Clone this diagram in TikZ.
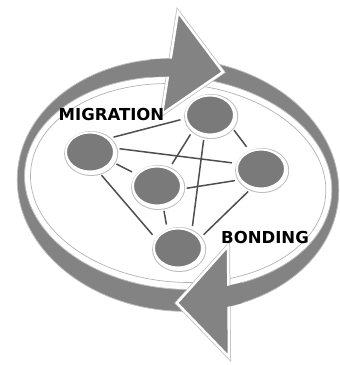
\documentclass[tikz,border=0pt]{standalone}
\usepackage{fontspec}
\setmainfont{DejaVu Sans}
\usetikzlibrary{shapes.geometric}
\definecolor{bandgray}{HTML}{838383}
\definecolor{atomgray}{HTML}{7A7A7A}
\definecolor{bondgray}{HTML}{4E4E4E}
\definecolor{rimgray}{HTML}{BDBDBD}

\begin{document}
\begin{tikzpicture}[
  x=1pt, y=-1pt,
  band/.style={fill=bandgray, even odd rule},
  head/.style={fill=bandgray, draw=white, line width=2.5pt, line join=miter, preaction={draw=rimgray, line width=4pt}},
  atom/.style={ellipse, minimum width=48pt, minimum height=39pt, inner sep=0pt, fill=atomgray, draw=white, line width=2pt,
    preaction={draw=rimgray, line width=6pt, transform canvas={shift={(1.2pt,-1.5pt)}}},
    preaction={draw=white, line width=4pt, transform canvas={shift={(1.2pt,-1.5pt)}}}},
  bond/.style={draw=bondgray, line width=1.5pt, shorten <=5pt, shorten >=5pt},
  tag/.style={font=\fontsize{16.5}{19}\selectfont\bfseries, inner sep=0pt}
]
\useasboundingbox (0,0) rectangle (340,365);

% the ring behind everything
\begin{scope}[rotate around={-5:(178,185)}]
  \fill[band] (178,185) ellipse [x radius=161, y radius=126] (178,183) ellipse [x radius=154, y radius=106];
  \draw[rimgray, line width=0.8pt] (178,185) ellipse [x radius=161, y radius=126] (178,183) ellipse [x radius=154, y radius=106];
  \draw[gray!60, line width=0.7pt] (178,183) ellipse [x radius=148, y radius=99];
\end{scope}

% arrow heads
\path[head] (178,12) -- (223,72) -- (162,114) -- cycle;
\path[head] (228,246) -- (177,303) -- (229,357) -- cycle;

% band runs into the heads without a seam
\begin{scope}
  \clip (150,48) rectangle (186,88) (214,268) rectangle (242,322);
  \fill[band, rotate around={-5:(178,185)}] (178,185) ellipse [x radius=161, y radius=126] (178,183) ellipse [x radius=154, y radius=106];
\end{scope}

% atoms
\node[atom] (ntop) at (210,115) {};
\node[atom] (nleft) at (90,152) {};
\node[atom] (nmid) at (157,186) {};
\node[atom] (nright) at (261,169) {};
\node[atom] (nbot) at (178,248) {};

% bonds
\draw[bond] (nleft.36) -- (ntop.188);
\draw[bond] (nleft.9) -- (nright.167);
\draw[bond] (nleft.-24) -- (nmid.150);
\draw[bond] (nleft.-67) -- (nbot.157);
\draw[bond] (ntop.222) -- (nmid.55);
\draw[bond] (ntop.254) -- (nbot.51);
\draw[bond] (ntop.-28) -- (nright.122);
\draw[bond] (nmid.-7) -- (nright.207);
\draw[bond] (nmid.-73) -- (nbot.120);
\draw[bond] (nright.244) -- (nbot.24);

\node[tag] (migration) at (111.5,114) {MIGRATION};
\node[tag] (bonding) at (265,237) {BONDING};
\end{tikzpicture}
\end{document}
